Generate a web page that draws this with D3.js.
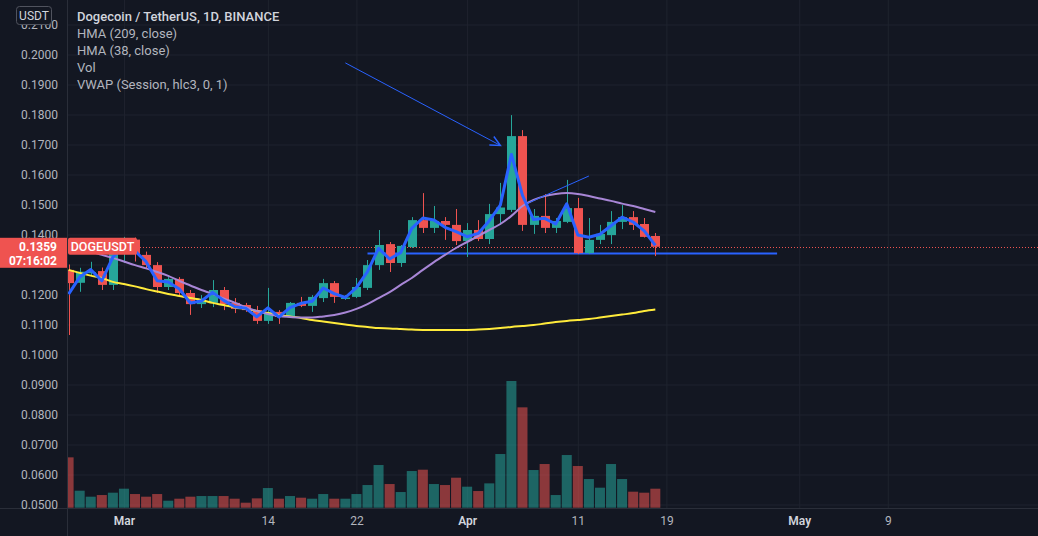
<!DOCTYPE html>
<html><head><meta charset="utf-8">
<script src="https://cdn.jsdelivr.net/npm/d3@7"></script>
<style>
html,body{margin:0;padding:0;background:#131722;overflow:hidden}
text{font-family:Roboto,"Noto Sans",sans-serif}
</style>
</head><body>
<svg id="c" width="1038" height="536"></svg>
<script>
// ---------------- data ----------------
const dates = ["2022-02-24","2022-02-25","2022-02-26","2022-02-27","2022-02-28",
"2022-03-01","2022-03-02","2022-03-03","2022-03-04","2022-03-05","2022-03-06","2022-03-07","2022-03-08","2022-03-09","2022-03-10",
"2022-03-11","2022-03-12","2022-03-13","2022-03-14","2022-03-15","2022-03-16","2022-03-17","2022-03-18","2022-03-19","2022-03-20",
"2022-03-21","2022-03-22","2022-03-23","2022-03-24","2022-03-25","2022-03-26","2022-03-27","2022-03-28","2022-03-29","2022-03-30",
"2022-03-31","2022-04-01","2022-04-02","2022-04-03","2022-04-04","2022-04-05","2022-04-06","2022-04-07","2022-04-08","2022-04-09",
"2022-04-10","2022-04-11","2022-04-12","2022-04-13","2022-04-14","2022-04-15","2022-04-16","2022-04-17","2022-04-18"];
const open  = [0.1282,0.1239,0.1271,0.1278,0.1232,0.1370,0.1383,0.1332,0.1298,0.1225,0.1252,0.1205,0.1168,0.1172,0.1215,0.1172,0.1165,0.1148,0.1112,0.1142,0.1125,0.1172,0.1162,0.1188,0.1238,0.1185,0.1192,0.1222,0.1298,0.1368,0.1305,0.1358,0.1448,0.1422,0.1445,0.1432,0.1378,0.1415,0.1385,0.1468,0.1482,0.1728,0.1432,0.1462,0.1422,0.1442,0.1488,0.1338,0.1382,0.1398,0.1442,0.1458,0.1435,0.1395];
const high  = [0.1300,0.1289,0.1309,0.1290,0.1388,0.1392,0.1390,0.1343,0.1308,0.1258,0.1258,0.1215,0.1198,0.1248,0.1225,0.1188,0.1172,0.1162,0.1222,0.1148,0.1175,0.1192,0.1198,0.1252,0.1245,0.1198,0.1255,0.1315,0.1415,0.1375,0.1365,0.1458,0.1538,0.1495,0.1458,0.1485,0.1438,0.1448,0.1502,0.1572,0.1798,0.1748,0.1485,0.1535,0.1455,0.1582,0.1522,0.1455,0.1432,0.1478,0.1498,0.1478,0.1455,0.1405];
const low   = [0.1065,0.1209,0.1265,0.1215,0.1215,0.1305,0.1310,0.1287,0.1205,0.1215,0.1192,0.1132,0.1155,0.1158,0.1148,0.1138,0.1142,0.1102,0.1102,0.1102,0.1122,0.1158,0.1142,0.1175,0.1172,0.1182,0.1188,0.1215,0.1282,0.1275,0.1292,0.1355,0.1405,0.1405,0.1382,0.1365,0.1325,0.1378,0.1368,0.1432,0.1475,0.1412,0.1402,0.1405,0.1405,0.1438,0.1335,0.1335,0.1368,0.1368,0.1418,0.1415,0.1390,0.1328];
const close = [0.1238,0.1276,0.1275,0.1232,0.1370,0.1383,0.1335,0.1298,0.1225,0.1252,0.1205,0.1168,0.1182,0.1215,0.1168,0.1152,0.1148,0.1112,0.1142,0.1125,0.1172,0.1162,0.1192,0.1238,0.1192,0.1190,0.1225,0.1298,0.1365,0.1305,0.1362,0.1448,0.1422,0.1445,0.1432,0.1378,0.1415,0.1385,0.1468,0.1490,0.1728,0.1432,0.1462,0.1422,0.1445,0.1488,0.1338,0.1382,0.1402,0.1442,0.1458,0.1432,0.1392,0.1359];
const volume = [1510,510,330,380,450,570,410,330,410,210,270,330,350,350,350,270,150,280,590,270,350,300,270,410,270,270,410,680,1280,710,470,1100,1140,710,680,900,630,500,730,1610,3800,3010,1130,1310,380,1580,1250,860,600,1310,860,480,450,570];
const hma209 = [0.1282,0.1272,0.1263,0.1255,0.1242,0.1235,0.1227,0.1218,0.1210,0.1202,0.1195,0.1188,0.1182,0.1172,0.1165,0.1157,0.1152,0.1145,0.1138,0.1132,0.1127,0.1122,0.1115,0.1110,0.1105,0.1100,0.1095,0.1092,0.1088,0.1087,0.1085,0.1083,0.1082,0.1082,0.1082,0.1082,0.1082,0.1083,0.1085,0.1088,0.1092,0.1095,0.1098,0.1103,0.1108,0.1112,0.1115,0.1118,0.1123,0.1128,0.1133,0.1138,0.1145,0.1150];
const hma38 = [0.1382,0.1362,0.1345,0.1332,0.1322,0.1310,0.1298,0.1287,0.1275,0.1262,0.1245,0.1230,0.1215,0.1202,0.1187,0.1173,0.1158,0.1145,0.1135,0.1128,0.1125,0.1123,0.1123,0.1127,0.1132,0.1140,0.1152,0.1168,0.1188,0.1208,0.1232,0.1255,0.1282,0.1308,0.1332,0.1355,0.1375,0.1395,0.1415,0.1435,0.1462,0.1495,0.1515,0.1528,0.1535,0.1538,0.1535,0.1528,0.1520,0.1512,0.1503,0.1495,0.1485,0.1475];
const priceTicks = [0.05,0.06,0.07,0.08,0.09,0.10,0.11,0.12,0.13,0.14,0.15,0.16,0.17,0.18,0.19,0.20,0.21];
const timeTickDates = ["2022-03-01","2022-03-14","2022-03-22","2022-04-01","2022-04-11","2022-04-19","2022-05-01","2022-05-09"];
const timeTickLabels = ["Mar","14","22","Apr","11","19","May","9"];
const legendLines = ["Dogecoin / TetherUS, 1D, BINANCE","HMA (209, close)","HMA (38, close)","Vol","VWAP (Session, hlc3, 0, 1)"];
const supportLine = {from:"2022-03-23", to:"2022-04-29", price:0.1337};
const arrowLine = {from:"2022-03-21", fromPrice:0.1972, to:"2022-04-04", toPrice:0.1697};
const trendLine = {from:"2022-04-06T12:00", fromPrice:0.1505, to:"2022-04-12", toPrice:0.1595};
const lastPrice = 0.1359, countdown = "07:16:02", symbol = "DOGEUSDT", currency = "USDT";

// ---------------- layout ----------------
const W = 1038, H = 536, plotLeft = 68, axisY = 508;
const parse = s => new Date(s.length > 10 ? s + "Z" : s + "T00:00:00Z");
const x = d3.scaleUtc().domain([parse("2022-02-24"), parse("2022-05-09")]).range([68.6, 887.8]);
const y = d3.scaleLinear().domain([0.05, 0.21]).range([504.5, 24.5]);
const yv = d3.scaleLinear().domain([0, 3800]).range([507.7, 381]);
const UP = "#26a69a", DOWN = "#ef5350";
const GRID = "#1f232e", BORDER = "#2a2e39", TXT = "#b2b5be";

const svg = d3.select("#c");
svg.append("rect").attr("width", W).attr("height", H).attr("fill", "#131722");

const defs = svg.append("defs");
defs.append("clipPath").attr("id", "plot").append("rect")
  .attr("x", plotLeft).attr("y", 0).attr("width", W - plotLeft).attr("height", axisY);

const rows = dates.map((d, i) => ({date: parse(d), o: open[i], h: high[i], l: low[i], c: close[i], v: volume[i],
  slow: hma209[i], fast: hma38[i], vwap: (high[i] + low[i] + close[i]) / 3}));

// grid
const gGrid = svg.append("g");
gGrid.append("g").attr("transform", `translate(${plotLeft},0)`)
  .call(d3.axisLeft(y).tickValues(priceTicks).tickSize(-(W - plotLeft)).tickFormat(""))
  .call(g => g.select(".domain").remove())
  .call(g => g.selectAll("line").attr("stroke", GRID));
gGrid.append("g").attr("transform", `translate(0,${axisY})`)
  .call(d3.axisBottom(x).tickValues(timeTickDates.map(parse)).tickSize(-axisY).tickFormat(""))
  .call(g => g.select(".domain").remove())
  .call(g => g.selectAll("line").attr("stroke", GRID));

const plot = svg.append("g").attr("clip-path", "url(#plot)");

// volume
plot.append("g").selectAll("rect").data(rows).join("rect")
  .attr("x", d => x(d.date) - 5).attr("width", 10)
  .attr("y", d => yv(d.v)).attr("height", d => yv(0) - yv(d.v))
  .attr("fill", d => d.c >= d.o ? UP : DOWN).attr("fill-opacity", 0.55);

// current price dotted line
plot.append("line").attr("x1", plotLeft).attr("x2", W).attr("y1", Math.round(y(lastPrice)) + 0.5).attr("y2", Math.round(y(lastPrice)) + 0.5)
  .attr("stroke", DOWN).attr("stroke-dasharray", "1,2");

// support line
plot.append("line").attr("x1", x(parse(supportLine.from))).attr("x2", x(parse(supportLine.to)))
  .attr("y1", y(supportLine.price)).attr("y2", y(supportLine.price))
  .attr("stroke", "#2962ff").attr("stroke-width", 2);

// candles
const cg = plot.append("g").selectAll("g").data(rows).join("g")
  .attr("stroke", d => d.c >= d.o ? UP : DOWN).attr("fill", d => d.c >= d.o ? UP : DOWN);
cg.append("line").attr("x1", d => Math.round(x(d.date)) + 0.5).attr("x2", d => Math.round(x(d.date)) + 0.5)
  .attr("y1", d => y(d.h)).attr("y2", d => y(d.l)).attr("stroke-width", 1);
cg.append("rect").attr("stroke", "none")
  .attr("x", d => Math.round(x(d.date)) + 0.5 - 4.5).attr("width", 9)
  .attr("y", d => y(Math.max(d.o, d.c))).attr("height", d => Math.max(1, Math.abs(y(d.o) - y(d.c))));

// indicator lines
const line = key => d3.line().x(d => x(d.date)).y(d => y(d[key]));
plot.append("path").datum(rows).attr("d", line("slow").curve(d3.curveMonotoneX))
  .attr("fill", "none").attr("stroke", "#ffeb3b").attr("stroke-width", 2);
plot.append("path").datum(rows).attr("d", line("fast").curve(d3.curveMonotoneX))
  .attr("fill", "none").attr("stroke", "#a886d6").attr("stroke-width", 2);
plot.append("path").datum(rows).attr("d", line("vwap"))
  .attr("fill", "none").attr("stroke", "#2962ff").attr("stroke-width", 3).attr("stroke-linejoin", "round");

// drawings: arrow and trend line
const ax1 = x(parse(arrowLine.from)), ay1 = y(arrowLine.fromPrice), ax2 = x(parse(arrowLine.to)), ay2 = y(arrowLine.toPrice);
plot.append("line").attr("x1", ax1).attr("y1", ay1).attr("x2", ax2).attr("y2", ay2).attr("stroke", "#2962ff").attr("stroke-width", 1);
const ang = Math.atan2(ay2 - ay1, ax2 - ax1), hl = 11, ha = 0.45;
plot.append("path")
  .attr("d", `M${ax2 - hl * Math.cos(ang - ha)},${ay2 - hl * Math.sin(ang - ha)}L${ax2},${ay2}L${ax2 - hl * Math.cos(ang + ha)},${ay2 - hl * Math.sin(ang + ha)}`)
  .attr("fill", "none").attr("stroke", "#2962ff").attr("stroke-width", 1.5);
plot.append("line").attr("x1", x(parse(trendLine.from))).attr("y1", y(trendLine.fromPrice))
  .attr("x2", x(parse(trendLine.to))).attr("y2", y(trendLine.toPrice)).attr("stroke", "#2962ff").attr("stroke-width", 1);

// borders
svg.append("line").attr("x1", 0).attr("x2", W).attr("y1", axisY + 0.5).attr("y2", axisY + 0.5).attr("stroke", BORDER);
svg.append("line").attr("x1", plotLeft - 0.5).attr("x2", plotLeft - 0.5).attr("y1", 0).attr("y2", H).attr("stroke", BORDER);

// last price label position (tick labels hidden behind it are skipped)
const ly = y(lastPrice);
const covered = v => Math.abs(y(v) - (ly + 6)) < 18;

// price axis
svg.append("g").attr("transform", "translate(61,0)")
  .call(d3.axisLeft(y).tickValues(priceTicks.filter(v => !covered(v))).tickSize(0).tickPadding(3).tickFormat(d3.format(".4f")))
  .call(g => g.select(".domain").remove())
  .call(g => g.selectAll("text").attr("fill", TXT).attr("font-size", 12).attr("font-family", 'Roboto,"Noto Sans",sans-serif'));

// time axis
svg.append("g").attr("transform", `translate(0,${axisY})`)
  .call(d3.axisBottom(x).tickValues(timeTickDates.map(parse)).tickSize(0).tickPadding(8).tickFormat((d, i) => timeTickLabels[i]))
  .call(g => g.select(".domain").remove())
  .call(g => g.selectAll("text").attr("fill", (d, i) => isNaN(+timeTickLabels[i]) ? "#d1d4dc" : TXT)
    .attr("font-weight", (d, i) => isNaN(+timeTickLabels[i]) ? 600 : 400)
    .attr("font-size", 12).attr("font-family", 'Roboto,"Noto Sans",sans-serif'));

// last price labels
svg.append("rect").attr("x", 0).attr("y", ly - 9).attr("width", plotLeft - 1).attr("height", 30).attr("fill", DOWN);
svg.append("text").attr("x", 57).attr("y", ly + 4.5).attr("text-anchor", "end").attr("fill", "#fff")
  .attr("font-size", 12).attr("font-weight", 700).text(lastPrice.toFixed(4));
svg.append("text").attr("x", 57).attr("y", ly + 18.5).attr("text-anchor", "end").attr("fill", "#fff")
  .attr("font-size", 12).attr("font-weight", 700).text(countdown);
svg.append("rect").attr("x", plotLeft).attr("y", ly - 9).attr("width", 69).attr("height", 17).attr("rx", 2).attr("fill", DOWN);
svg.append("text").attr("x", plotLeft + 34.5).attr("y", ly + 4).attr("text-anchor", "middle").attr("fill", "#fff")
  .attr("font-size", 12.5).attr("font-weight", 500).text(symbol);

// currency box
svg.append("rect").attr("x", 16.5).attr("y", 6.5).attr("width", 35).attr("height", 18).attr("rx", 3)
  .attr("fill", "#131722").attr("stroke", "#50535e");
svg.append("text").attr("x", 34).attr("y", 20).attr("text-anchor", "middle").attr("fill", "#d1d4dc")
  .attr("font-size", 12).text(currency);

// legend
svg.append("g").selectAll("text").data(legendLines).join("text")
  .attr("x", 77).attr("y", (d, i) => 21 + i * 17)
  .attr("fill", (d, i) => i === 0 ? "#d1d4dc" : TXT)
  .attr("font-size", 13).attr("font-weight", (d, i) => i === 0 ? 500 : 400)
  .text(d => d);
</script>
</body></html>
